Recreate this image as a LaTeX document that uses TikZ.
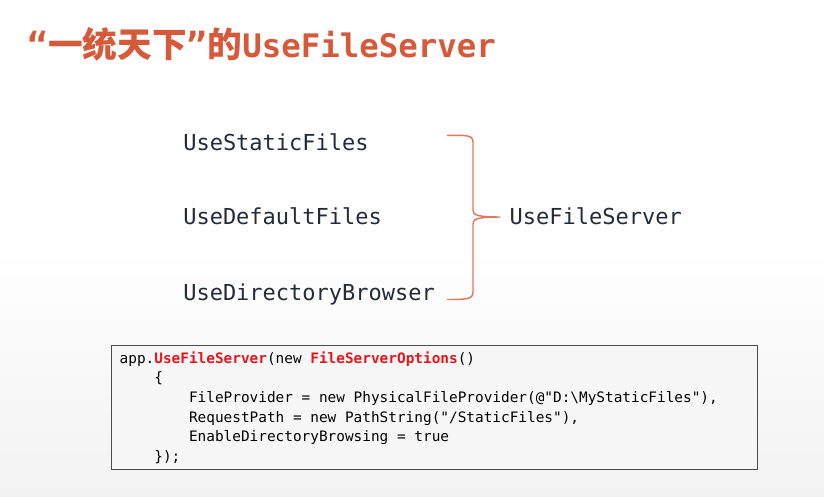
\documentclass[tikz,border=0pt]{standalone}
\usepackage{fontspec}
\newfontfamily\cjk{Noto Sans CJK SC}
\newfontfamily\codefont{DejaVu Sans Mono}
\usetikzlibrary{positioning}

\definecolor{titlered}{HTML}{D65A3A}
\definecolor{bracered}{HTML}{E2775C}
\definecolor{labelink}{HTML}{232B38}
\definecolor{keyred}{HTML}{E8141C}

\tikzset{
  mw/.style={anchor=west, text=labelink, font=\codefont\fontsize{16.5}{18}\selectfont,
    text height=12pt, text depth=3.5pt, inner sep=0pt},
  codebox/.style={draw=black!70, line width=1pt, fill=white!97!black, anchor=north west,
    minimum width=484.5pt, minimum height=93pt, inner xsep=6pt, inner ysep=0pt,
    align=left, text width=472.5pt, font=\codefont\fontsize{10.8}{14.7}\selectfont},
  brace/.style={draw=bracered, line width=1.1pt}
}
\newcommand\tab{\phantom{0000}}
\newcommand\kw[1]{\textcolor{keyred}{\bfseries #1}}
\newcommand\monospaces{\spaceskip=0.602em\relax\xspaceskip=0.602em\relax}

\begin{document}
\begin{tikzpicture}[x=0.75pt, y=-0.75pt]
    \useasboundingbox (0,0) rectangle (824,496);
    \shade[top color=white, bottom color=black!5, middle color=white] (0,0) rectangle (824,496);

    \node [anchor=west, text=titlered, inner sep=0pt] (title) at (27,44)
        {{\codefont\bfseries\fontsize{26}{30}\selectfont “}{\cjk\bfseries\fontsize{26}{30}\selectfont 一统天下}{\codefont\bfseries\fontsize{26}{30}\selectfont ”}{\cjk\bfseries\fontsize{26}{30}\selectfont 的}{\codefont\bfseries\fontsize{24.3}{28}\selectfont UseFileServer}};

    \node [mw] (static) at (183,145) {UseStaticFiles};
    \node [mw, below=55.5pt of static.west, anchor=west] (default) {UseDefaultFiles};
    \node [mw, below=57pt of default.west, anchor=west] (browser) {UseDirectoryBrowser};

    \coordinate (top) at (447,135.5);
    \coordinate (tip) at (500,217);
    \coordinate (bottom) at (447,299.5);
    \draw [brace] (top) .. controls (466,135) and (473,135) .. (473,142) -- (473,210)
        .. controls (473,215) and (477,217) .. (tip)
        .. controls (477,217) and (473,219) .. (473,224) -- (473,292)
        .. controls (473,299.5) and (466,299.5) .. (bottom);
    \node [mw, right=7pt of tip, anchor=west, yshift=-1.5pt] (server) {UseFileServer};

    \node [codebox] (code) at (111,345) {\monospaces
        app.\kw{UseFileServer}(new \kw{FileServerOptions}()\\
        \tab\{\\
        \tab\tab FileProvider = new PhysicalFileProvider(@"D:\textbackslash MyStaticFiles"),\\
        \tab\tab RequestPath = new PathString("/StaticFiles"),\\
        \tab\tab EnableDirectoryBrowsing = true\\
        \tab\});};
\end{tikzpicture}
\end{document}
